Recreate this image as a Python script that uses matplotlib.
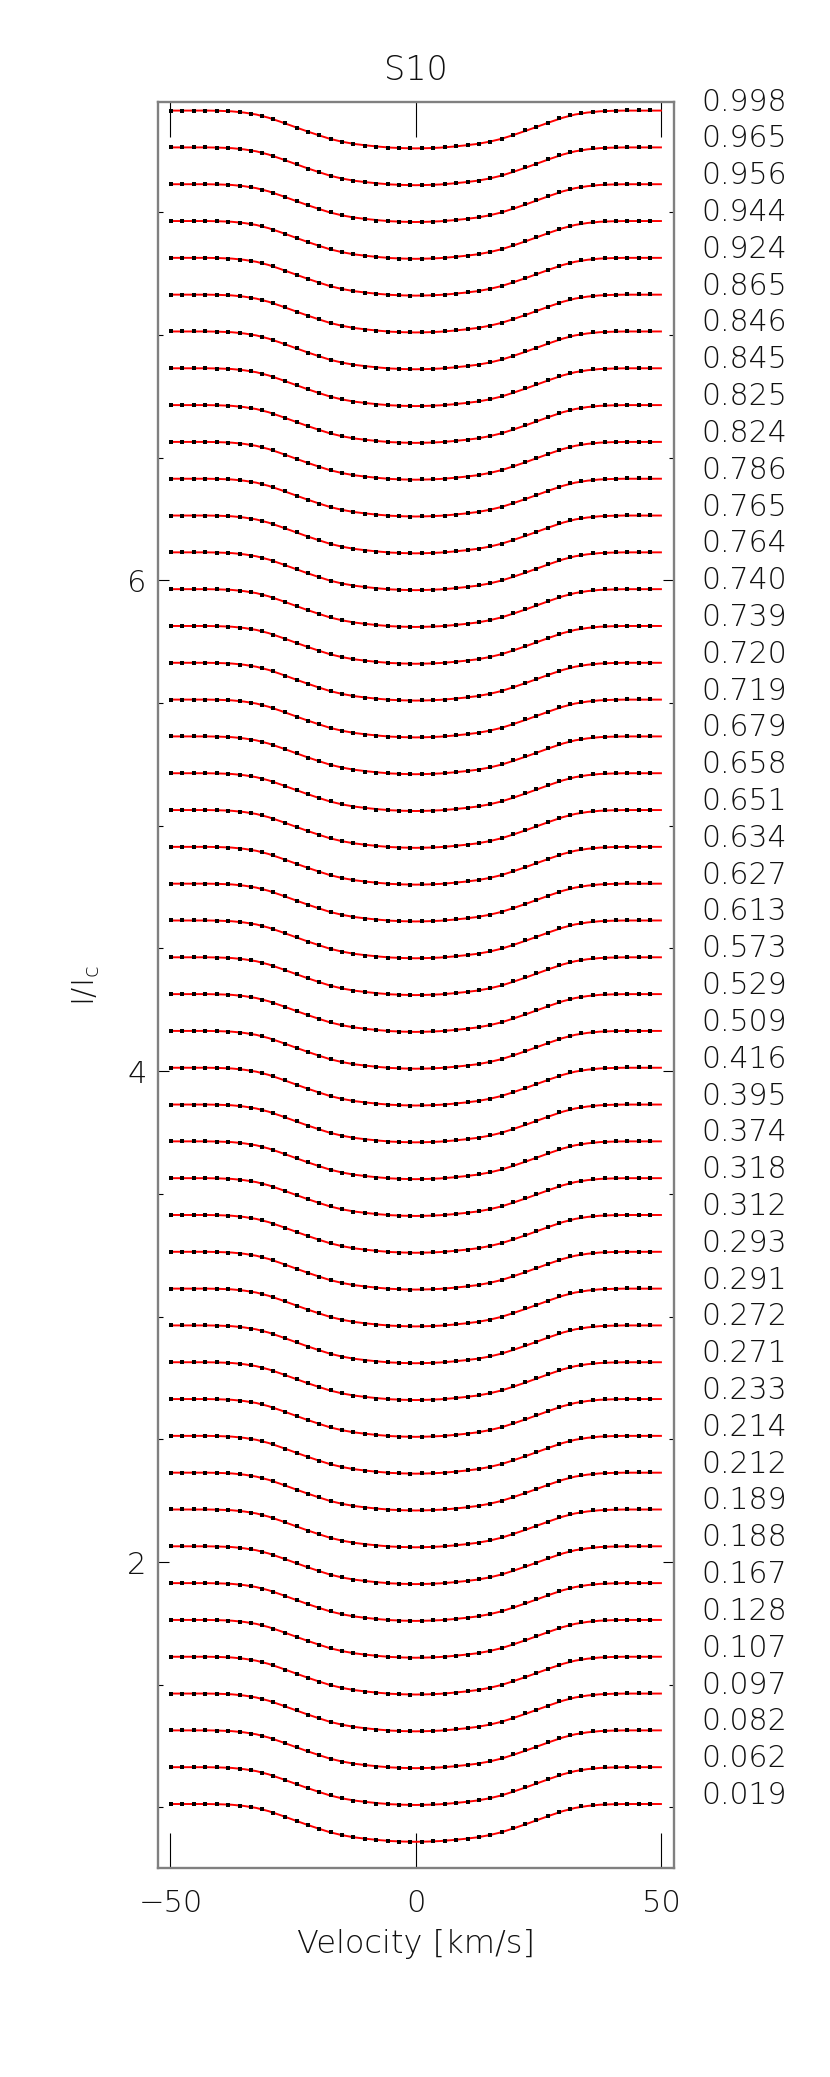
import numpy as np
import matplotlib
matplotlib.use('Agg')
import matplotlib.pyplot as plt
from matplotlib.ticker import MultipleLocator, FixedLocator
import matplotlib.transforms as mtransforms

### Data ###

# rotational phases, bottom profile first
phases = ['0.019', '0.062', '0.082', '0.097', '0.107', '0.128', '0.167', '0.188',
          '0.189', '0.212', '0.214', '0.233', '0.271', '0.272', '0.291', '0.293',
          '0.312', '0.318', '0.374', '0.395', '0.416', '0.509', '0.529', '0.573',
          '0.613', '0.627', '0.634', '0.651', '0.658', '0.679', '0.719', '0.720',
          '0.739', '0.740', '0.764', '0.765', '0.786', '0.824', '0.825', '0.845',
          '0.846', '0.865', '0.924', '0.944', '0.956', '0.965', '0.998']

# observed velocity grid [km/s]
obsVel = [-49.9, -47.6, -45.2, -42.9, -40.6, -38.3, -35.9, -33.6, -31.3, -29.0,
          -26.6, -24.3, -22.0, -19.7, -17.3, -15.0, -12.7, -10.4, -8.0, -5.7,
          -3.4, -1.1, 1.3, 3.6, 5.9, 8.3, 10.6, 12.9, 15.2, 17.6,
          19.9, 22.2, 24.5, 26.9, 29.2, 31.5, 33.8, 36.2, 38.5, 40.8,
          43.1, 45.5, 47.8]

# observed line depth below continuum
obsDepth = [0.000, 0.000, 0.000, 0.000, 0.001, 0.003, 0.007, 0.013, 0.022, 0.035,
            0.052, 0.069, 0.086, 0.101, 0.115, 0.127, 0.136, 0.143, 0.148, 0.151,
            0.153, 0.154, 0.153, 0.152, 0.150, 0.146, 0.141, 0.135, 0.126, 0.114,
            0.098, 0.081, 0.066, 0.049, 0.032, 0.019, 0.010, 0.004, 0.001, 0.000,
            -0.001, -0.001, -0.001]

# model velocity grid and depth
modelVel = [-50.0, -47.5, -45.0, -42.5, -40.0, -37.5, -35.0, -32.5, -30.0, -27.5,
            -25.0, -22.5, -20.0, -17.5, -15.0, -12.5, -10.0, -7.5, -5.0, -2.5,
            0.0, 2.5, 5.0, 7.5, 10.0, 12.5, 15.0, 17.5, 20.0, 22.5,
            25.0, 27.5, 30.0, 32.5, 35.0, 37.5, 40.0, 42.5, 45.0, 47.5, 50.0]
modelDepth = [0.000, 0.000, 0.000, 0.000, 0.001, 0.003, 0.008, 0.016, 0.029, 0.046,
              0.064, 0.082, 0.099, 0.115, 0.127, 0.136, 0.142, 0.147, 0.151, 0.153,
              0.154, 0.153, 0.151, 0.147, 0.142, 0.136, 0.127, 0.115, 0.099, 0.082,
              0.064, 0.046, 0.029, 0.016, 0.008, 0.003, 0.001, 0.000, 0.000, 0.000, 0.000]

continuum = 1.014
shift = 0.15

### Figure ###
fig = plt.figure(figsize=(8.30, 20.77), dpi=100, facecolor='w')
W, H = 830.0, 2077.0
left, right, top, bottom = 157.7, 673.7, 102.0, 1868.3
ax = fig.add_axes([left / W, (H - bottom) / H, (right - left) / W, (bottom - top) / H])

fontKw = dict(family='DejaVu Sans', weight='light')
textColor = '#111111'

obsVel = np.array(obsVel)
obsDepth = np.array(obsDepth)
modelVel = np.array(modelVel)
modelDepth = np.array(modelDepth)

labelTrans = mtransforms.blended_transform_factory(ax.transAxes, ax.transData)

for i in range(len(phases)):
	level = continuum + i * shift
	ax.plot(modelVel, level - modelDepth, '-', color='#ff0000', linewidth=1.4, zorder=2)
	ax.plot(obsVel, level - obsDepth, 's', color='k', markersize=2.2,
		markeredgewidth=0, zorder=3)
	ax.text(1.053, level, phases[i], transform=labelTrans, ha='left', va='baseline',
		fontsize=21.5, color=textColor, **fontKw)

ax.set_xlim(-52.6, 52.6)
ax.set_ylim(0.752, 7.949)

# Set plot ticks
ax.xaxis.set_major_locator(FixedLocator([-50, 0, 50]))
ax.yaxis.set_major_locator(FixedLocator([2, 4, 6]))
ax.yaxis.set_minor_locator(MultipleLocator(0.5))
ax.tick_params(axis='x', which='major', direction='in', length=25, width=0.8,
	top=True, bottom=True, pad=15, colors='k', labelsize=22, labelcolor=textColor)
ax.tick_params(axis='y', which='major', direction='in', length=7.7, width=0.8,
	left=True, right=True, pad=8, colors='k', labelsize=22, labelcolor=textColor)
ax.tick_params(axis='y', which='minor', direction='in', length=3.6, width=0.8,
	left=True, right=True, colors='k')
ax.set_xticklabels(['\u221250', '0', '50'])
for label in (ax.get_xticklabels() + ax.get_yticklabels()):
	label.set_family('DejaVu Sans')
	label.set_weight('light')

for spine in ax.spines.values():
	spine.set_color('#808080')
	spine.set_linewidth(1.7)

# labels and title
fig.text((left + right) / 2 / W, 1 - 70 / H, 'S10', ha='center', va='center',
	fontsize=24, color=textColor, **fontKw)
fig.text((left + right) / 2 / W, 1 - 1944 / H, 'Velocity [km/s]', ha='center', va='center',
	fontsize=23, color=textColor, **fontKw)
plt.rcParams['mathtext.default'] = 'regular'
fig.text(86 / W, 1 - 985 / H, r'I/I$_c$', ha='center', va='center', rotation=90,
	fontsize=22, color=textColor, **fontKw)

fig.savefig('out.png', dpi=100, facecolor='w')
